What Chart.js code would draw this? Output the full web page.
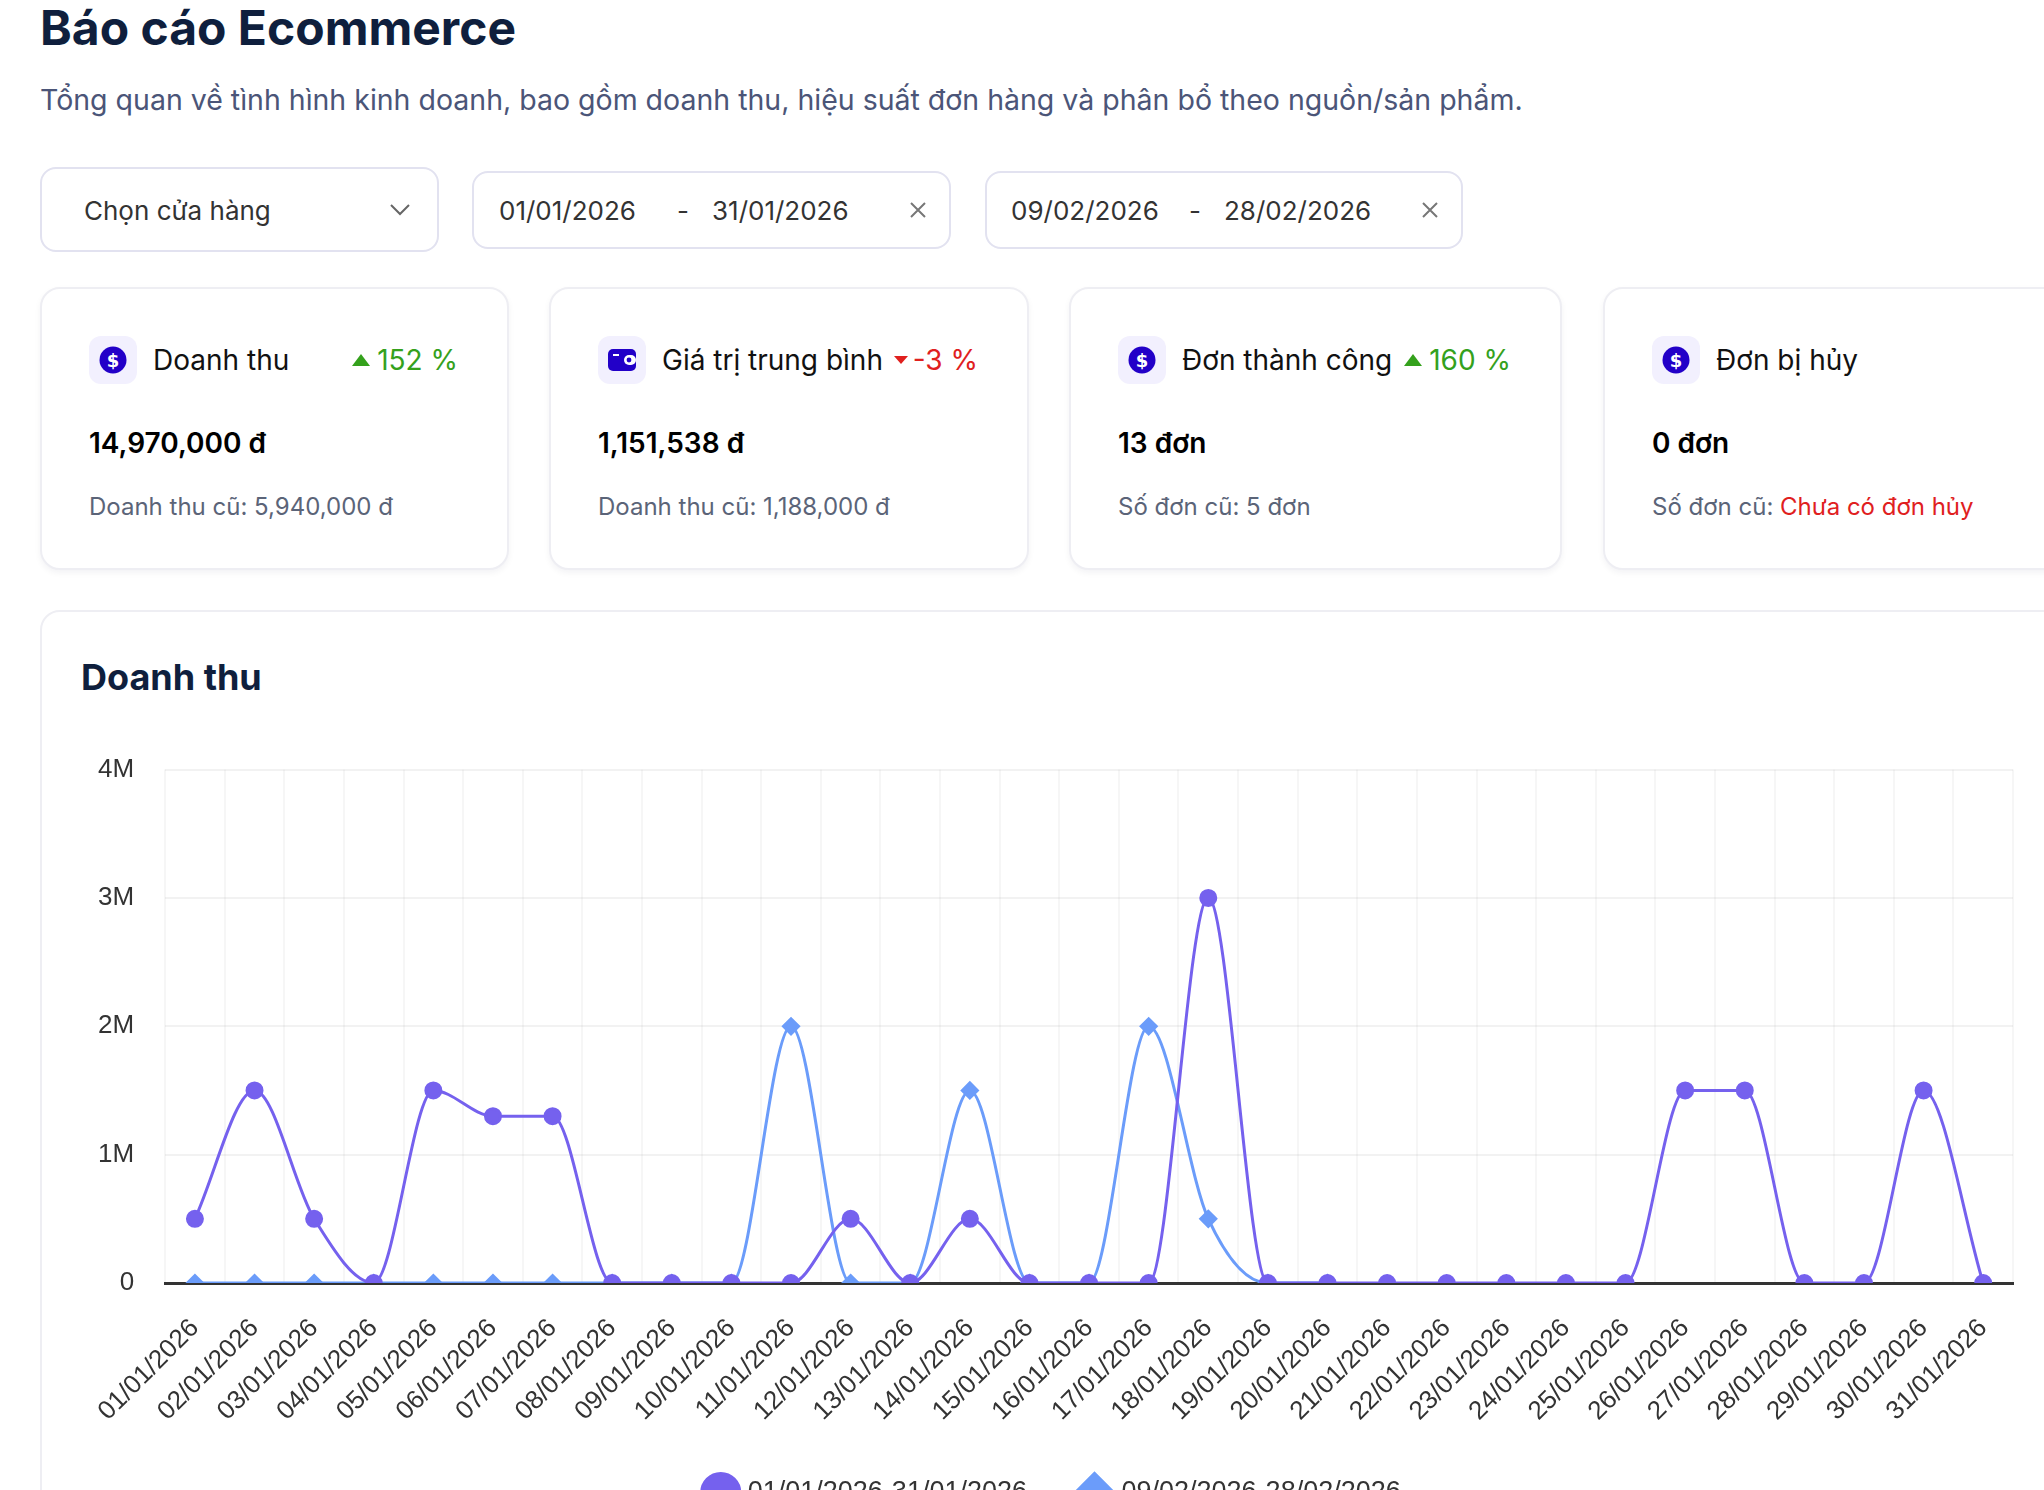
<!DOCTYPE html>
<html lang="vi">
<head>
<meta charset="utf-8">
<title>Báo cáo Ecommerce</title>
<script src="https://cdn.jsdelivr.net/npm/chart.js@4.4.1/dist/chart.umd.min.js"></script>
<style>
  html, body { margin: 0; padding: 0; background: #fff; overflow: hidden; }
  body { width: 2044px; height: 1490px; position: relative; font-family: Inter, 'Noto Sans', sans-serif; color: #111; }
  .abs { position: absolute; white-space: nowrap; }
  .title { left: 40px; top: 4px; font-size: 48px; line-height: 48px; font-weight: 700; color: #0f1f3d; }
  .sub { left: 40px; top: 80px; font-size: 28.5px; line-height: 40px; color: #4b5578; }
  .box { position: absolute; box-sizing: border-box; border: 2px solid #e2e2f0; border-radius: 16px; background: #fff; }
  .box span { position: absolute; top: 50%; transform: translateY(-50%); font-size: 26px; color: #333; white-space: nowrap; }
  .box svg { position: absolute; top: 50%; transform: translateY(-50%); }
  .card { position: absolute; top: 287px; height: 283px; box-sizing: border-box; border: 2px solid #eeeef3; border-radius: 20px; background: #fff; box-shadow: 0 3px 6px rgba(20,20,60,.05); }
  .card .hd { position: absolute; left: 47px; right: 49px; top: 47px; height: 48px; display: flex; align-items: center; white-space: nowrap; }
  .card .ic { width: 48px; height: 48px; border-radius: 12px; background: #f2f0fe; display: flex; align-items: center; justify-content: center; flex: none; }
  .card .lb { margin-left: 16px; font-size: 28px; color: #111; flex: none; }
  .card .pc { margin-left: auto; padding-left: 10px; font-size: 28px; display: flex; align-items: center; flex: none; }
  .up { color: #34a11c; } .dn { color: #e0201e; }
  .tri-up { width: 0; height: 0; border-left: 9px solid transparent; border-right: 9px solid transparent; border-bottom: 12px solid #34a11c; margin-right: 7px; }
  .tri-dn { width: 0; height: 0; border-left: 7px solid transparent; border-right: 7px solid transparent; border-top: 8px solid #e0201e; margin-right: 5px; }
  .card .val { position: absolute; left: 47px; top: 134px; line-height: 40px; font-size: 28px; font-weight: 600; color: #000; white-space: nowrap; }
  .card .old { position: absolute; left: 47px; top: 200px; line-height: 36px; font-size: 24px; color: #5b6478; white-space: nowrap; }
  .old b { font-weight: 400; color: #e0201e; }
  .chartcard { position: absolute; left: 40px; top: 610px; width: 2040px; height: 1000px; box-sizing: border-box; border: 2px solid #eeeef3; border-radius: 20px; background: #fff; }
  .chartcard h2 { position: absolute; left: 39px; top: 45px; margin: 0; font-size: 36px; line-height: 40px; font-weight: 700; color: #0f1f3d; }
  .cwrap { position: absolute; left: 39px; top: 139px; width: 1956px; height: 765px; }
</style>
</head>
<body>
<div class="abs title">Báo cáo Ecommerce</div>
<div class="abs sub">Tổng quan về tình hình kinh doanh, bao gồm doanh thu, hiệu suất đơn hàng và phân bổ theo nguồn/sản phẩm.</div>

<div class="box" style="left:40px;top:167px;width:399px;height:85px">
  <span style="left:42px">Chọn cửa hàng</span>
  <svg style="left:347px" width="22" height="14" viewBox="0 0 22 14"><path d="M2 2 L11 11 L20 2" fill="none" stroke="#666" stroke-width="2"/></svg>
</div>
<div class="box" style="left:472px;top:171px;width:479px;height:78px">
  <span style="left:25px">01/01/2026</span><span style="left:203px">-</span><span style="left:238px">31/01/2026</span>
  <svg style="left:435px" width="18" height="18" viewBox="0 0 18 18"><path d="M2 2 L16 16 M16 2 L2 16" stroke="#777" stroke-width="2"/></svg>
</div>
<div class="box" style="left:985px;top:171px;width:478px;height:78px">
  <span style="left:24px">09/02/2026</span><span style="left:202px">-</span><span style="left:237px">28/02/2026</span>
  <svg style="left:434px" width="18" height="18" viewBox="0 0 18 18"><path d="M2 2 L16 16 M16 2 L2 16" stroke="#777" stroke-width="2"/></svg>
</div>

<div id="cards"></div>

<div class="chartcard">
  <h2>Doanh thu</h2>
  <div class="cwrap"><canvas id="revChart"></canvas></div>
</div>

<script>
// dữ liệu biểu đồ doanh thu theo ngày
const labels = ['01/01/2026', '02/01/2026', '03/01/2026', '04/01/2026', '05/01/2026', '06/01/2026', '07/01/2026', '08/01/2026',
  '09/01/2026', '10/01/2026', '11/01/2026', '12/01/2026', '13/01/2026', '14/01/2026', '15/01/2026', '16/01/2026',
  '17/01/2026', '18/01/2026', '19/01/2026', '20/01/2026', '21/01/2026', '22/01/2026', '23/01/2026', '24/01/2026',
  '25/01/2026', '26/01/2026', '27/01/2026', '28/01/2026', '29/01/2026', '30/01/2026', '31/01/2026'];
const curName = '01/01/2026-31/01/2026';
const curRevenue = [500000, 1500000, 500000, 0, 1500000, 1300000, 1300000, 0, 0, 0, 0, 500000, 0, 500000, 0, 0,
  0, 3000000, 0, 0, 0, 0, 0, 0, 0, 1500000, 1500000, 0, 0, 1500000, 0];
const prevName = '09/02/2026-28/02/2026';
const prevRevenue = [0, 0, 0, 0, 0, 0, 0, 0, 0, 0, 2000000, 0, 0, 1500000, 0, 0, 2000000, 500000, 0, 0];
const yTicks = [0, 1000000, 2000000, 3000000, 4000000];

// thẻ KPI
const kpiTitles = ['Doanh thu', 'Giá trị trung bình', 'Đơn thành công', 'Đơn bị hủy'];
const kpiValues = ['14,970,000 đ', '1,151,538 đ', '13 đơn', '0 đơn'];
const kpiChange = [152, -3, 160, null];
const kpiOld = ['Doanh thu cũ: 5,940,000 đ', 'Doanh thu cũ: 1,188,000 đ', 'Số đơn cũ: 5 đơn', 'Số đơn cũ: '];
const kpiOldNote = ['', '', '', 'Chưa có đơn hủy'];
const kpiIcons = ['coin', 'wallet', 'coin', 'coin'];

const PURPLE = '#7561ee', BLUE = '#6b9cfa';

const ICONS = {
  coin: '<svg width="28" height="28" viewBox="0 0 28 28"><circle cx="14" cy="14" r="13.5" fill="#2200c8"/><text x="14" y="20.5" text-anchor="middle" font-family="DejaVu Sans" font-weight="700" font-size="18" fill="#fff">$</text></svg>',
  wallet: '<svg width="30" height="26" viewBox="0 0 30 26"><rect x="1" y="2" width="28" height="22" rx="5" fill="#2200c8"/><rect x="17" y="8" width="12" height="10" rx="5" fill="#fff"/><circle cx="22" cy="13" r="2.4" fill="#2200c8"/><rect x="6" y="7" width="6" height="2" fill="#fff"/></svg>'
};

function mkCards() {
  const lefts = [40, 549, 1069, 1603], widths = [469, 480, 493, 470];
  const host = document.getElementById('cards');
  kpiTitles.forEach((t, i) => {
    const ch = kpiChange[i];
    let pc = '';
    if (ch != null) {
      pc = ch >= 0
        ? `<div class="pc up"><div class="tri-up"></div>${ch} %</div>`
        : `<div class="pc dn"><div class="tri-dn"></div>${ch} %</div>`;
    }
    const el = document.createElement('div');
    el.className = 'card';
    el.style.left = lefts[i] + 'px'; el.style.width = widths[i] + 'px';
    el.innerHTML = `<div class="hd"><div class="ic">${ICONS[kpiIcons[i]]}</div><div class="lb">${t}</div>${pc}</div>
      <div class="val">${kpiValues[i]}</div>
      <div class="old">${kpiOld[i]}${kpiOldNote[i] ? '<b>' + kpiOldNote[i] + '</b>' : ''}</div>`;
    host.appendChild(el);
  });
}

function mkChart() {
  const el = document.getElementById('revChart');
  const family = "Helvetica, Arial, 'Liberation Sans', sans-serif";
  const font = { family, size: 26 };
  new Chart(el, {
    type: 'line',
    data: {
      labels,
      datasets: [
        { label: curName, data: curRevenue, borderColor: PURPLE, backgroundColor: PURPLE, pointBackgroundColor: PURPLE, pointBorderColor: PURPLE,
          pointStyle: 'circle', pointRadius: 7.5, borderWidth: 3, cubicInterpolationMode: 'monotone' },
        { label: prevName, data: prevRevenue, borderColor: BLUE, backgroundColor: BLUE, pointBackgroundColor: BLUE, pointBorderColor: BLUE,
          pointStyle: 'rectRot', pointRadius: 7.5, borderWidth: 3, cubicInterpolationMode: 'monotone' }
      ]
    },
    options: {
      animation: false, responsive: true, maintainAspectRatio: false, devicePixelRatio: 1,
      layout: { padding: { left: 14, right: 24, top: 0, bottom: 0 } },
      plugins: {
        legend: { position: 'bottom', labels: { usePointStyle: true, padding: 54, color: '#333', font: { family, size: 27 } } },
        tooltip: { enabled: false }
      },
      scales: {
        x: {
          offset: true,
          afterFit: s => { s.height = 142; },
          grid: { offset: true, color: 'rgba(0,0,0,0.035)', lineWidth: 2, tickLength: 30, tickColor: 'transparent' },
          border: { color: '#333', width: 3 },
          ticks: { autoSkip: false, minRotation: 45, maxRotation: 45, padding: 0, color: '#333', font }
        },
        y: {
          min: 0, max: 4000000,
          afterBuildTicks: s => { s.ticks = yTicks.map(v => ({ value: v })); },
          grid: { color: 'rgba(0,0,0,0.05)', lineWidth: 2, tickLength: 28, tickColor: 'transparent' },
          border: { display: false },
          ticks: { padding: 3, color: '#333', font, callback: v => v === 0 ? '0' : (v / 1000000) + 'M' }
        }
      }
    }
  });
}

mkCards();
mkChart();
</script>
</body>
</html>
